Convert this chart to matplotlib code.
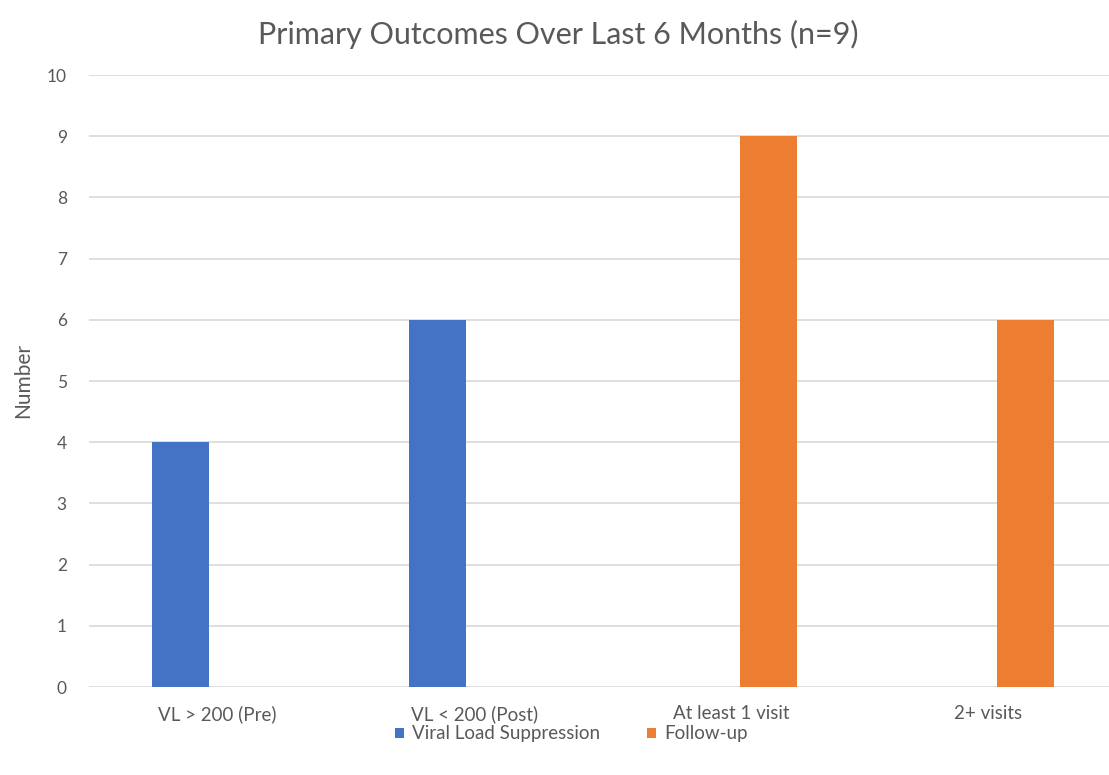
import matplotlib.pyplot as plt
import numpy as np

categories = ["VL > 200 (Pre)", "VL < 200 (Post)", "At least 1 visit", "2+ visits"]
viral_load = [4, 6, 0, 0]
follow_up = [0, 0, 9, 6]

plt.rcParams["font.family"] = ["Lato", "DejaVu Sans"]
text_color = "#595959"

fig = plt.figure(figsize=(11.09, 7.75), dpi=100)
ax = fig.add_axes([89 / 1109, 1 - 687 / 775, 1 - 89 / 1109, (687 - 75) / 775])

x = np.arange(len(categories))
w = 0.222
off = 0.144
ax.bar(x - off, viral_load, w, color="#4472C4", label="Viral Load Suppression", zorder=3)
ax.bar(x + off, follow_up, w, color="#ED7D31", label="Follow-up", zorder=3)

ax.set_xlim(-0.5, 3.47)
ax.set_ylim(0, 10)
ax.set_yticks(range(0, 11))
ax.set_xticks(x)
ax.set_xticklabels(categories)
ax.grid(axis="y", color="#D9D9D9", linewidth=1.2, zorder=0)
for s in ax.spines.values():
    s.set_visible(False)
ax.tick_params(axis="both", length=0, colors=text_color)
ax.tick_params(axis="y", pad=16, labelsize=12.5)
ax.tick_params(axis="x", pad=13, labelsize=13.5)

ax.set_ylabel("Number", color=text_color, fontsize=15, labelpad=10)
fig.text(0.503, 1 - 34 / 775, "Primary Outcomes Over Last 6 Months (n=9)",
         ha="center", va="center", fontsize=22, color=text_color)

fig.legend(loc="center", bbox_to_anchor=(0.515, 1 - 734 / 775), ncol=2, frameon=False,
           fontsize=13.5, labelcolor=text_color, handlelength=0.5, handleheight=0.5,
           columnspacing=2.5, handletextpad=0.4)

fig.savefig("out.png", dpi=100)
